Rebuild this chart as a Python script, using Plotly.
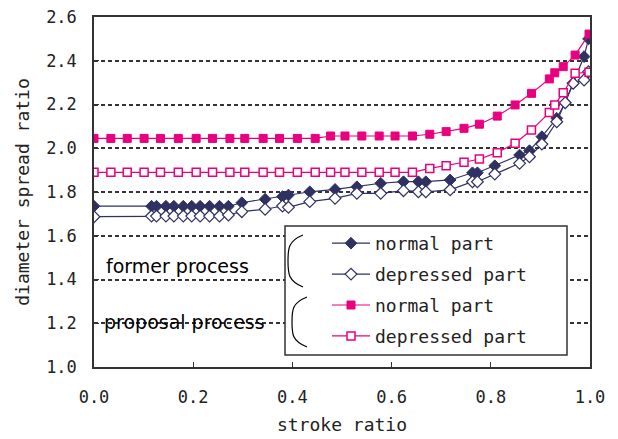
import plotly.graph_objects as go

# ---- data ----
x_former = [0.0, 0.116, 0.126, 0.145, 0.161, 0.180, 0.197, 0.214, 0.233, 0.253, 0.271,
            0.298, 0.345, 0.380, 0.392, 0.435, 0.486, 0.530, 0.578, 0.624, 0.654, 0.669,
            0.718, 0.763, 0.773, 0.808, 0.858, 0.878, 0.903, 0.933, 0.950, 0.966, 0.988, 0.997]
y_former_normal = [1.735, 1.735, 1.735, 1.735, 1.735, 1.735, 1.735, 1.735, 1.735, 1.735, 1.735,
                   1.751, 1.767, 1.779, 1.786, 1.801, 1.812, 1.824, 1.840, 1.847, 1.847, 1.847,
                   1.855, 1.888, 1.888, 1.920, 1.969, 1.989, 2.053, 2.137, 2.208, 2.297, 2.419, 2.500]
y_former_depressed = [1.687, 1.690, 1.690, 1.690, 1.690, 1.690, 1.690, 1.690, 1.690, 1.690, 1.695,
                      1.710, 1.721, 1.736, 1.730, 1.756, 1.771, 1.794, 1.794, 1.806, 1.801, 1.801,
                      1.810, 1.847, 1.847, 1.882, 1.931, 1.961, 2.019, 2.121, 2.208, 2.297, 2.312, 2.350]

x_proposal = [0.0, 0.034, 0.067, 0.101, 0.134, 0.170, 0.206, 0.239, 0.274, 0.304, 0.341,
              0.374, 0.410, 0.446, 0.477, 0.506, 0.540, 0.575, 0.607, 0.642, 0.677, 0.710,
              0.746, 0.777, 0.813, 0.849, 0.882, 0.918, 0.929, 0.946, 0.970, 0.998]
y_proposal_normal = [2.045, 2.045, 2.045, 2.045, 2.045, 2.045, 2.045, 2.045, 2.045, 2.045, 2.045,
                     2.045, 2.045, 2.045, 2.056, 2.056, 2.056, 2.056, 2.056, 2.056, 2.064, 2.076,
                     2.091, 2.110, 2.147, 2.198, 2.251, 2.317, 2.345, 2.373, 2.426, 2.522]
y_proposal_depressed = [1.890, 1.890, 1.890, 1.890, 1.890, 1.890, 1.890, 1.890, 1.890, 1.890, 1.890,
                        1.890, 1.890, 1.890, 1.890, 1.890, 1.890, 1.890, 1.890, 1.890, 1.908, 1.920,
                        1.936, 1.951, 1.980, 2.023, 2.083, 2.163, 2.198, 2.254, 2.343, 2.347]

x_ticks = [0.0, 0.2, 0.4, 0.6, 0.8, 1.0]
y_ticks = [1.0, 1.2, 1.4, 1.6, 1.8, 2.0, 2.2, 2.4, 2.6]
series_names = ["normal part", "depressed part", "normal part", "depressed part"]
group_labels = ["former process", "proposal process"]

NAVY = "#2f3163"
PINK = "#e8007f"

W, H = 618, 439
ML, MR, MT, MB = 94, 28, 17, 72


def px_x(p):
    return (p - ML) / (W - ML - MR)


def px_y(p):
    return (H - MB - p) / (H - MT - MB)


fig = go.Figure()
fig.add_trace(go.Scatter(x=x_former, y=y_former_normal, name=series_names[0], mode="lines+markers",
                         line=dict(color=NAVY, width=1.2), legendgroup="a",
                         marker=dict(symbol="diamond", size=9, color=NAVY, line=dict(color=NAVY, width=1))))
fig.add_trace(go.Scatter(x=x_former, y=y_former_depressed, name=series_names[1], mode="lines+markers",
                         line=dict(color=NAVY, width=1.2), legendgroup="b",
                         marker=dict(symbol="diamond", size=9, color="white", line=dict(color=NAVY, width=1.2))))
fig.add_trace(go.Scatter(x=x_proposal, y=y_proposal_normal, name=series_names[2], mode="lines+markers",
                         line=dict(color=PINK, width=1.2), legendgroup="c",
                         marker=dict(symbol="square", size=8, color=PINK, line=dict(color=PINK, width=1))))
fig.add_trace(go.Scatter(x=x_proposal, y=y_proposal_depressed, name=series_names[3], mode="lines+markers",
                         line=dict(color=PINK, width=1.2), legendgroup="d",
                         marker=dict(symbol="square", size=8, color="white", line=dict(color=PINK, width=1.5))))

mono = "DejaVu Sans Mono"
axis_common = dict(showline=True, mirror=True, linecolor="#333333", linewidth=1.5,
                   ticks="inside", ticklen=5, tickcolor="#333333", tickwidth=1.2, automargin=False,
                   tickfont=dict(family=mono, size=17, color="#222222"), zeroline=False)

fig.update_xaxes(range=[0, 1], tickvals=x_ticks, tickformat=".1f", showgrid=False,
                 title=dict(text="stroke ratio", font=dict(family=mono, size=18, color="#222222"), standoff=12),
                 ticklabelstandoff=14, **axis_common)
fig.update_yaxes(range=[1.0, 2.6], tickvals=y_ticks, tickformat=".1f", showgrid=True,
                 gridcolor="#333333", gridwidth=1.5, griddash="4px,3px",
                 title=dict(text="diameter spread ratio", font=dict(family=mono, size=18, color="#222222"), standoff=12),
                 ticklabelstandoff=12, **axis_common)

# legend box
fig.add_shape(type="rect", xref="paper", yref="paper",
              x0=px_x(285), x1=px_x(567), y0=px_y(355), y1=px_y(226),
              fillcolor="white", line=dict(color="#333333", width=1.5), layer="above")


def brace(x_right, x_left, y_top, y_bot):
    ym = (y_top + y_bot) / 2
    return ("M {a},{b} C {c},{d} {e},{f} {g},{h} C {i},{j} {k},{l} {m},{n}".format(
        a=px_x(x_right), b=px_y(y_top),
        c=px_x(x_left), d=px_y(y_top + 6), e=px_x(x_left), f=px_y(ym - 12), g=px_x(x_left), h=px_y(ym),
        i=px_x(x_left), j=px_y(ym + 12), k=px_x(x_left), l=px_y(y_bot - 6), m=px_x(x_right), n=px_y(y_bot)))


fig.add_shape(type="path", xref="paper", yref="paper", path=brace(303, 288, 235, 287),
              line=dict(color="black", width=1.2), layer="above")
fig.add_shape(type="path", xref="paper", yref="paper", path=brace(307, 292, 297, 347),
              line=dict(color="black", width=1.2), layer="above")

fig.add_annotation(xref="paper", yref="paper", x=px_x(104), y=px_y(266), text=group_labels[0],
                   showarrow=False, xanchor="left", yanchor="middle",
                   font=dict(family="DejaVu Sans", size=19, color="black"))
fig.add_annotation(xref="paper", yref="paper", x=px_x(102), y=px_y(322), text=group_labels[1],
                   showarrow=False, xanchor="left", yanchor="middle",
                   font=dict(family="DejaVu Sans", size=19, color="black"))

fig.update_layout(
    width=W, height=H, margin=dict(l=ML, r=MR, t=MT, b=MB, autoexpand=False),
    paper_bgcolor="white", plot_bgcolor="white",
    showlegend=True,
    legend=dict(x=px_x(327), y=px_y(225), xanchor="left", yanchor="top", itemwidth=38,
                bgcolor="rgba(0,0,0,0)", borderwidth=0, tracegroupgap=4.5,
                font=dict(family=mono, size=18, color="#222222")),
)

fig.write_html("out.html", config={"displayModeBar": False},
               post_script="document.body.style.margin='0';document.body.style.overflow='hidden';")
